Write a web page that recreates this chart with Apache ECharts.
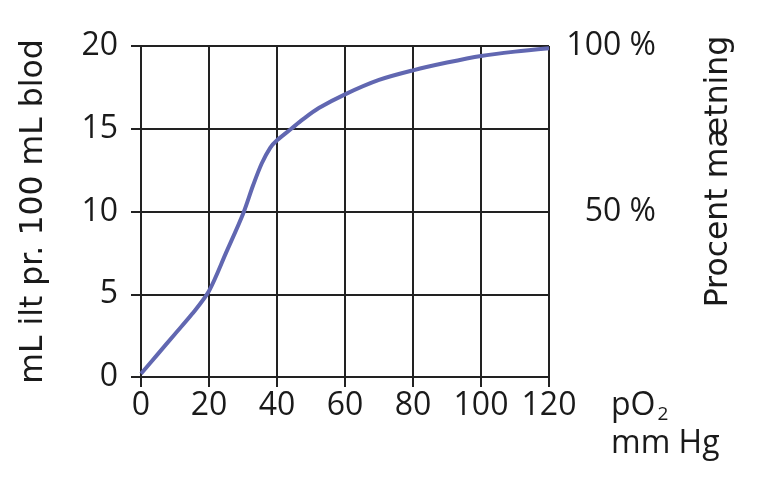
<!DOCTYPE html>
<html><head><meta charset="utf-8">
<script src="https://cdn.jsdelivr.net/npm/echarts@6/dist/echarts.min.js"></script>
<style>html,body{margin:0;padding:0;background:#fff}#c{width:784px;height:494px}</style>
</head><body><div id="c"></div>
<script>
const pO2 = [0, 5, 10, 15, 20, 25, 30, 33, 35.5, 38, 40, 44.2, 47.5, 52.3, 60, 70, 80, 90, 100, 110, 120];
const oxygen = [0.2, 1.4, 2.6, 3.8, 5.2, 7.5, 9.85, 11.6, 12.9, 13.85, 14.3, 15.0, 15.55, 16.25, 17.08, 17.95, 18.53, 19.0, 19.4, 19.66, 19.86];
const xTicks = [0, 20, 40, 60, 80, 100, 120];
const leftTicks = [0, 5, 10, 15, 20];
const rightTicks = [50, 100];

const FONT = 'Open Sans';
const TFONT = 'DejaVu Sans';
const TXT = '#1a1a1a';
const chart = echarts.init(document.getElementById('c'), null, {renderer: 'canvas'});
chart.setOption({
  animation: false,
  grid: {left: 141, right: 235, top: 46, bottom: 117, containLabel: false},
  xAxis: {
    type: 'value', min: xTicks[0], max: xTicks[xTicks.length - 1], interval: 20,
    axisLine: {show: true, lineStyle: {color: '#222', width: 2}},
    axisTick: {show: true, length: 10, lineStyle: {color: '#222', width: 2}},
    splitLine: {show: true, lineStyle: {color: '#222', width: 2}},
    axisLabel: {fontFamily: FONT, fontSize: 32, color: TXT, margin: 13},
    name: '{a|pO}{s|2}\n{a|mm Hg}',
    nameLocation: 'end', nameGap: 62,
    nameTextStyle: {
      align: 'left', verticalAlign: 'top', padding: [10, 0, 0, 0],
      rich: {
        a: {fontFamily: FONT, fontSize: 32, color: TXT, lineHeight: 38},
        s: {fontFamily: FONT, fontSize: 19, color: TXT, padding: [18, 0, 0, 2]}
      }
    }
  },
  yAxis: [{
    type: 'value', min: leftTicks[0], max: leftTicks[leftTicks.length - 1], interval: 5,
    axisLine: {show: true, lineStyle: {color: '#222', width: 2}},
    axisTick: {show: true, length: 10, lineStyle: {color: '#222', width: 2}},
    splitLine: {show: true, lineStyle: {color: '#222', width: 2}},
    axisLabel: {fontFamily: FONT, fontSize: 32, color: TXT, margin: 23},
    name: 'mL ilt pr. 100 mL blod', nameLocation: 'middle', nameGap: 91, nameRotate: 90,
    nameTextStyle: {fontFamily: TFONT, fontSize: 31.5, color: TXT}
  }, {
    type: 'value', min: 0, max: 100, interval: 50, position: 'right',
    axisLine: {show: false}, axisTick: {show: false}, splitLine: {show: false},
    axisLabel: {
      fontFamily: FONT, fontSize: 32, color: TXT, align: 'right', margin: 107,
      formatter: v => rightTicks.includes(v) ? v + ' %' : ''
    },
    name: 'Procent mætning', nameLocation: 'middle', nameGap: 154, nameRotate: 90,
    nameTextStyle: {fontFamily: TFONT, fontSize: 31.5, color: TXT, padding: [0, 0, 0, 80]}
  }],
  series: [{
    type: 'line', data: pO2.map((x, i) => [x, oxygen[i]]),
    smooth: 0.3, showSymbol: false,
    lineStyle: {color: '#6167b1', width: 4}
  }]
});
</script></body></html>
